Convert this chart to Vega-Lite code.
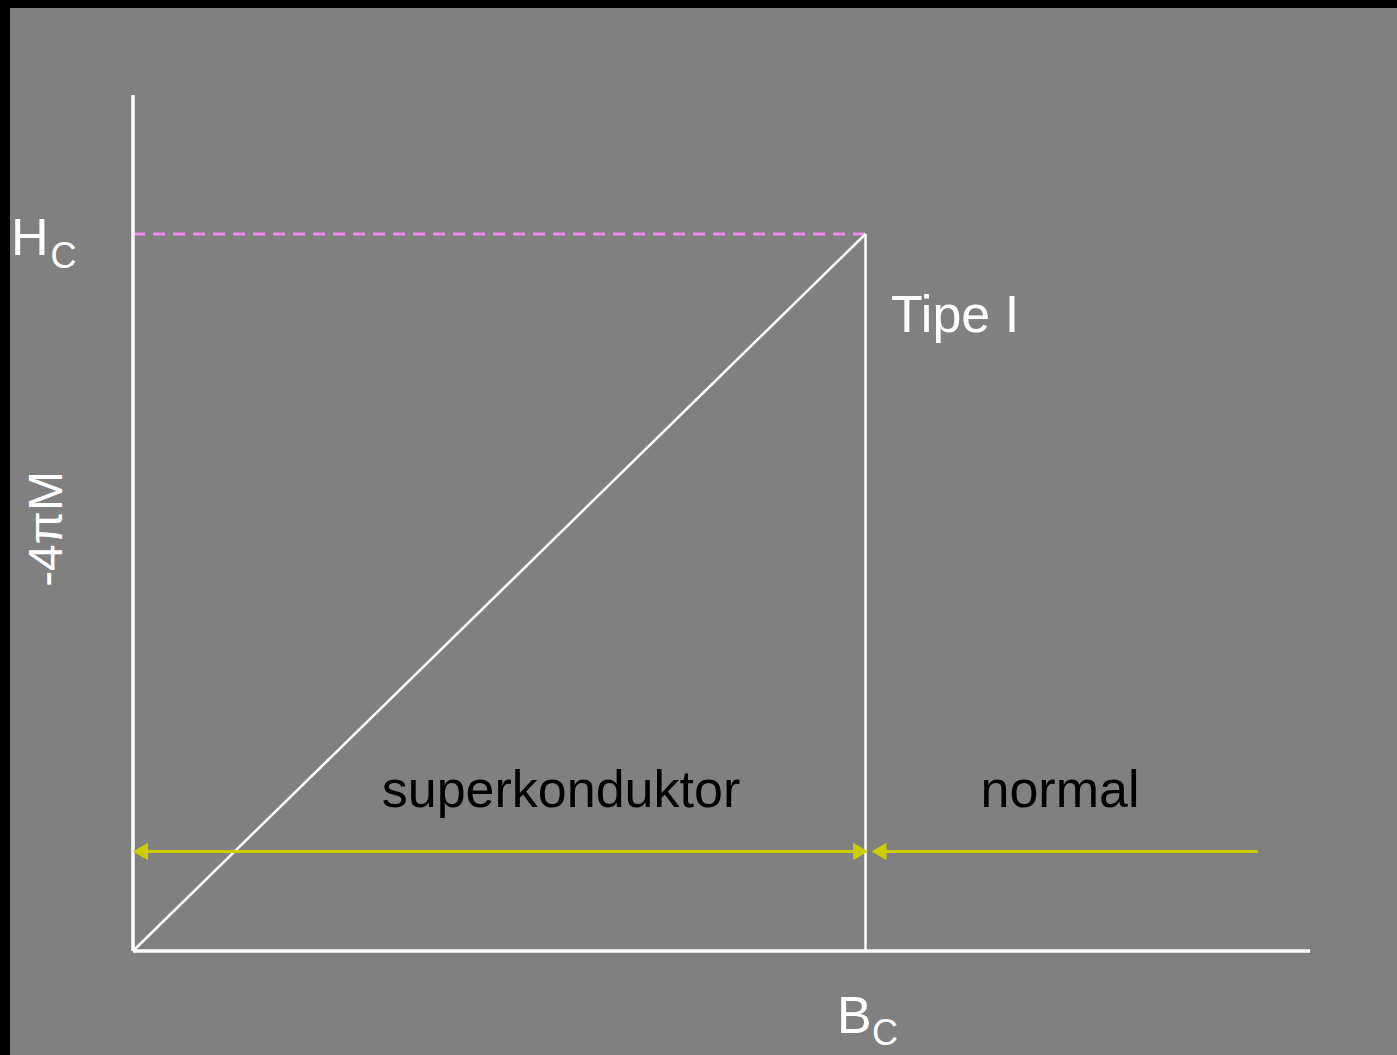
{
  "$schema": "https://vega.github.io/schema/vega-lite/v6.json",
  "width": 1397,
  "height": 1055,
  "autosize": {"type": "fit", "contains": "padding"},
  "padding": {"left": 10, "top": 8, "right": 0, "bottom": 0},
  "background": "#000000",
  "config": {"view": {"fill": "#808080", "stroke": null}},
  "datasets": {
    "axes": [
      {"x": 0, "y": 0, "x2": 0, "y2": 1.194},
      {"x": 0, "y": 0, "x2": 1.607, "y2": 0}
    ],
    "bc": [{"x": 1, "y": 0, "x2": 1, "y2": 1}],
    "diag": [{"x": 0, "y": 0, "x2": 1, "y2": 1}],
    "hc": [{"x": 0, "y": 1, "x2": 1, "y2": 1}],
    "ranges": [
      {"x": 0.005, "y": 0.1388, "x2": 0.995, "y2": 0.1388},
      {"x": 1.015, "y": 0.1388, "x2": 1.5354, "y2": 0.1388}
    ],
    "headsLeft": [{"x": 0.0102, "y": 0.1388}, {"x": 1.0184, "y": 0.1388}],
    "headsRight": [{"x": 0.9932, "y": 0.1388}],
    "bigWhite": [
      {"x": -0.1666, "y": 0.9707, "label": "H"},
      {"x": 0.9612, "y": -0.1144, "label": "B"},
      {"x": 1.0348, "y": 0.8640, "label": "Tipe I"}
    ],
    "subWhite": [
      {"x": -0.1126, "y": 0.9526, "label": "C"},
      {"x": 1.0089, "y": -0.1311, "label": "C"}
    ],
    "yLabel": [{"x": -0.0969, "y": 0.5886, "label": "-4πM"}],
    "regions": [
      {"x": 0.5843, "y": 0.2015, "label": "superkonduktor"},
      {"x": 1.2655, "y": 0.2015, "label": "normal"}
    ]
  },
  "encoding": {
    "x": {"field": "x", "type": "quantitative", "scale": {"domain": [-0.16792, 1.7256], "nice": false, "zero": false}, "axis": null},
    "y": {"field": "y", "type": "quantitative", "scale": {"domain": [-0.14505, 1.3152], "nice": false, "zero": false}, "axis": null}
  },
  "layer": [
    {
      "data": {"name": "hc"},
      "mark": {"type": "rule", "color": "#f088f0", "strokeWidth": 3, "strokeDash": [12, 8]},
      "encoding": {"x2": {"field": "x2"}, "y2": {"field": "y2"}}
    },
    {
      "data": {"name": "diag"},
      "mark": {"type": "rule", "color": "#ffffff", "strokeWidth": 2.5},
      "encoding": {"x2": {"field": "x2"}, "y2": {"field": "y2"}}
    },
    {
      "data": {"name": "bc"},
      "mark": {"type": "rule", "color": "#ffffff", "strokeWidth": 2.5},
      "encoding": {"x2": {"field": "x2"}, "y2": {"field": "y2"}}
    },
    {
      "data": {"name": "axes"},
      "mark": {"type": "rule", "color": "#ffffff", "strokeWidth": 3.5},
      "encoding": {"x2": {"field": "x2"}, "y2": {"field": "y2"}}
    },
    {
      "data": {"name": "ranges"},
      "mark": {"type": "rule", "color": "#cccc00", "strokeWidth": 3},
      "encoding": {"x2": {"field": "x2"}, "y2": {"field": "y2"}}
    },
    {
      "data": {"name": "headsLeft"},
      "mark": {"type": "point", "shape": "triangle-left", "filled": true, "opacity": 1, "color": "#cccc00", "size": 300, "strokeWidth": 0}
    },
    {
      "data": {"name": "headsRight"},
      "mark": {"type": "point", "shape": "triangle-right", "filled": true, "opacity": 1, "color": "#cccc00", "size": 300, "strokeWidth": 0}
    },
    {
      "data": {"name": "bigWhite"},
      "mark": {"type": "text", "font": "Liberation Sans", "fontSize": 52, "color": "#ffffff", "align": "left", "baseline": "alphabetic"},
      "encoding": {"text": {"field": "label"}}
    },
    {
      "data": {"name": "subWhite"},
      "mark": {"type": "text", "font": "Liberation Sans", "fontSize": 36, "color": "#ffffff", "align": "left", "baseline": "alphabetic"},
      "encoding": {"text": {"field": "label"}}
    },
    {
      "data": {"name": "yLabel"},
      "mark": {"type": "text", "font": "Liberation Sans", "fontSize": 48, "color": "#ffffff", "align": "center", "baseline": "alphabetic", "angle": 270},
      "encoding": {"text": {"field": "label"}}
    },
    {
      "data": {"name": "regions"},
      "mark": {"type": "text", "font": "Liberation Sans", "fontSize": 52, "color": "#000000", "align": "center", "baseline": "alphabetic"},
      "encoding": {"text": {"field": "label"}}
    }
  ]
}
